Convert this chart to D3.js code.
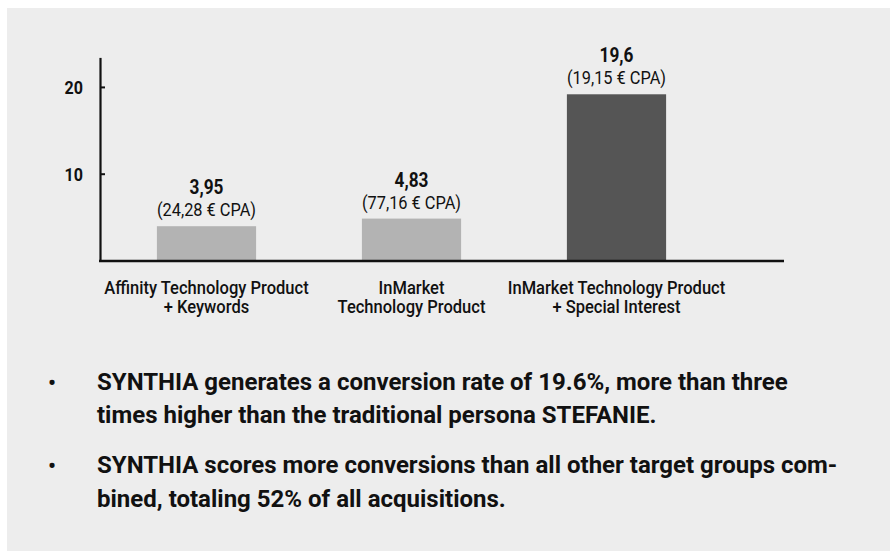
<!DOCTYPE html>
<html>
<head>
<meta charset="utf-8">
<script src="https://cdn.jsdelivr.net/npm/d3@7"></script>
<style>
  html, body { margin: 0; padding: 0; background: #ffffff; }
  svg { display: block; }
  text { font-family: Roboto, "Noto Sans", sans-serif; fill: #111111; }
</style>
</head>
<body>
<script>
// ---- data ----
const categories = [
  ["Affinity Technology Product", "+ Keywords"],
  ["InMarket", "Technology Product"],
  ["InMarket Technology Product", "+ Special Interest"]
];
const barValues = [3.95, 4.83, 19.15];
const valueLabels = ["3,95", "4,83", "19,6"];
const cpaLabels = ["(24,28 € CPA)", "(77,16 € CPA)", "(19,15 € CPA)"];
const barColors = ["#b3b3b3", "#b3b3b3", "#555555"];
const yTicks = [10, 20];
const bullets = [
  ["SYNTHIA generates a conversion rate of 19.6%, more than three",
   "times higher than the traditional persona STEFANIE."],
  ["SYNTHIA scores more conversions than all other target groups com-",
   "bined, totaling 52% of all acquisitions."]
];

// ---- layout ----
const W = 890, H = 551;
const COND = 0.87;

const svg = d3.select("body").append("svg")
  .attr("width", W).attr("height", H);

svg.append("rect")
  .attr("x", 7).attr("y", 8)
  .attr("width", W - 7).attr("height", H - 8)
  .attr("fill", "#ededed");

const idx = d3.range(categories.length);
const x = d3.scaleBand().domain(idx).range([104, 719])
  .paddingInner(0.516).paddingOuter(0.258);
const y = d3.scaleLinear().domain([0, 23.4]).range([260.5, 57.4]);

function ctext(g, tx, ty, str, opts) {
  return g.append("text")
    .attr("transform", `translate(${tx},${ty}) scale(${COND},1)`)
    .attr("text-anchor", opts.anchor || "middle")
    .attr("font-size", opts.size)
    .attr("font-weight", opts.weight || 400)
    .text(str);
}

// bars
svg.append("g").selectAll("rect").data(idx).join("rect")
  .attr("x", i => x(i))
  .attr("y", i => y(barValues[i]))
  .attr("width", x.bandwidth())
  .attr("height", i => y(0) - y(barValues[i]))
  .attr("fill", i => barColors[i]);

// y axis
const yAxis = d3.axisLeft(y).tickValues(yTicks).tickSize(-5).tickSizeOuter(0).tickPadding(17);
const gy = svg.append("g").attr("transform", "translate(100,0)").call(yAxis);
gy.select(".domain").attr("stroke", "#111").attr("stroke-width", 2.2);
gy.selectAll(".tick line").attr("stroke", "#111").attr("stroke-width", 2);
gy.selectAll(".tick text").remove();
gy.selectAll(".tick").each(function(d) {
  const t = d3.select(this);
  t.append("text")
    .attr("transform", `translate(-17,7) scale(${COND},1)`)
    .attr("text-anchor", "end")
    .attr("font-size", 18.5)
    .attr("font-weight", 700)
    .style("fill", "#111")
    .text(d);
});

// x axis baseline
svg.append("line")
  .attr("x1", 99).attr("x2", 784)
  .attr("y1", y(0) + 0.5).attr("y2", y(0) + 0.5)
  .attr("stroke", "#111").attr("stroke-width", 2.4);

// value labels
const gl = svg.append("g");
idx.forEach(i => {
  const cx = x(i) + x.bandwidth() / 2;
  const top = y(barValues[i]);
  ctext(gl, cx, top - 10, cpaLabels[i], { size: 18.8, weight: 400 });
  ctext(gl, cx, top - 32, valueLabels[i], { size: 19.8, weight: 700 });
});

// category labels
const gc = svg.append("g");
idx.forEach(i => {
  const cx = x(i) + x.bandwidth() / 2;
  ctext(gc, cx, y(0) + 33, categories[i][0], { size: 19, weight: 500 });
  ctext(gc, cx, y(0) + 52.5, categories[i][1], { size: 19, weight: 500 });
});

// bullets
const gb = svg.append("g");
const bulletTop = [390, 473.3];
bullets.forEach((lines, bi) => {
  gb.append("text")
    .attr("x", 48).attr("y", bulletTop[bi])
    .attr("font-size", 22).attr("font-weight", 700)
    .text("•");
  lines.forEach((ln, li) => {
    gb.append("text")
      .attr("x", 97).attr("y", bulletTop[bi] + li * 33.3)
      .attr("font-size", 24).attr("font-weight", 700)
      .text(ln);
  });
});
</script>
</body>
</html>
